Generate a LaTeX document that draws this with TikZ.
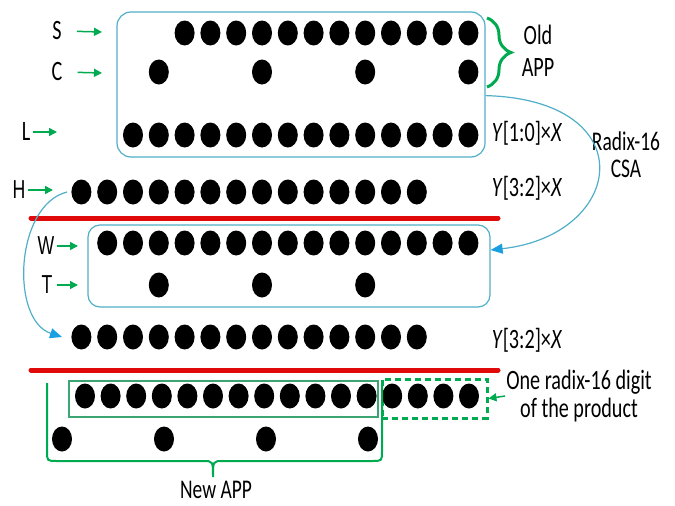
\documentclass[tikz,border=0pt]{standalone}
\usepackage{fontspec}
\setmainfont{Carlito}[FakeStretch=0.72]
\newfontfamily\hwtfont{Liberation Sans}[FakeStretch=0.68]
\usetikzlibrary{arrows.meta,calc,decorations.pathreplacing,positioning}
\definecolor{boxcyan}{RGB}{80,175,200}
\definecolor{tipblue}{RGB}{25,160,225}
\definecolor{appgreen}{RGB}{0,170,80}
\definecolor{rectgreen}{RGB}{60,165,115}
\definecolor{cutred}{RGB}{225,10,10}

\begin{document}
\begin{tikzpicture}[x=1pt, y=-1pt,
    txt/.style={font=\fontsize{28}{29}\selectfont, inner sep=1pt, align=center},
    rowlbl/.style={font=\fontsize{26}{28}\selectfont\hwtfont, inner sep=1pt},
    appbox/.style={draw=boxcyan, line width=1.2pt, rounded corners=14pt},
    newbox/.style={draw=rectgreen, line width=1.2pt},
    digitbox/.style={draw=appgreen, line width=3pt, dash pattern=on 6pt off 4pt},
    garr/.style={-{Triangle[length=8pt,width=8pt]}, appgreen, line width=1.5pt},
    csaarr/.style={-{Triangle[length=12pt,width=10pt,color=tipblue]}, boxcyan, line width=1.2pt},
    cutline/.style={cutred, line width=5pt, line cap=round},
    pp/.style={x radius=10pt, y radius=12.5pt}
]
    \useasboundingbox (0,0) rectangle (675,506);

    % boxes
    \node[appbox, minimum width=368pt, minimum height=145pt] (oldapp) at (301,84.5) {};
    \node[appbox, minimum width=402pt, minimum height=82pt, rounded corners=12pt] (csabox) at (289,266) {};
    \node[newbox, minimum width=309pt, minimum height=36pt] (newpp) at (223.5,399) {};
    \node[digitbox, minimum width=105pt, minimum height=39pt] (digit) at (434.5,398.5) {};

    % partial product bits
    \foreach \c in {2,...,13} \fill ({133+25.8*\c},33) ellipse [pp];
    \foreach \c in {1,5,9,13} \fill ({133+25.8*\c},72) ellipse [pp];
    \foreach \c in {0,...,13} \fill ({133+25.8*\c},135) ellipse [pp];
    \foreach \c in {-2,...,11} \fill ({133+25.8*\c},192) ellipse [pp];
    \foreach \c in {-1,...,13} \fill ({133+25.8*\c},243) ellipse [pp];
    \foreach \c in {1,5,9} \fill ({133+25.8*\c},285) ellipse [pp];
    \foreach \c in {-2,...,11} \fill ({133+25.8*\c},337) ellipse [pp];
    \foreach \i in {0,...,15} \fill ({85+25.6*\i},396) ellipse [pp];
    \foreach \i in {0,...,3} \fill ({62+102*\i},439) ellipse [pp];

    \draw[cutline] (31,218) -- (498,218);
    \draw[cutline] (31,370) -- (498,370);

    % row labels
    \node[txt] (labS) at (57,31) {S};
    \node[txt] (labC) at (57,72) {C};
    \node[txt] (labL) at (26,132) {L};
    \node[rowlbl] (labH) at (19,190) {H};
    \node[rowlbl] (labW) at (46,246) {W};
    \node[rowlbl] (labT) at (47,285) {T};
    \coordinate (inS) at (102,32);
    \coordinate (inC) at (102,73);
    \coordinate (inL) at (57,132);
    \coordinate (inH) at (53,190);
    \coordinate (inW) at (78,246);
    \coordinate (inT) at (78,285);
    \draw[garr, shorten <=14pt] (labS.east) -- (inS);
    \draw[garr, shorten <=14pt] (labC.east) -- (inC);
    \draw[garr, shorten <=2pt] (labL.east) -- (inL);
    \draw[garr, shorten <=1pt] (labH.east) -- (inH);
    \draw[garr, shorten <=1pt] (labW.east) -- (inW);
    \draw[garr, shorten <=3pt] (labT.east) -- (inT);

    % right side
    \draw[appgreen, line width=3pt, decorate, decoration={brace, amplitude=24pt}] (487,18) -- (487,87);
    \node[txt, font=\fontsize{28}{32}\selectfont] (oldtxt) at (538,51) {Old\\APP};
    \node[txt] (y10) at (527,133) {\textit{Y}[1:0]×\textit{X}};
    \node[txt] (y32a) at (527,188) {\textit{Y}[3:2]×\textit{X}};
    \node[txt] (y32b) at (527,340) {\textit{Y}[3:2]×\textit{X}};
    \node[txt, font=\fontsize{27}{27}\selectfont] (csa) at (626,155) {Radix-16\\CSA};
    \draw[csaarr] ($(oldapp.south east)+(0,-62)$) .. controls (645,100) and (625,235) .. ([yshift=16pt]csabox.east);

    \coordinate (hout) at (67,192);
    \coordinate (hin) at (62,337);
    \draw[csaarr] (hout) .. controls (15,205) and (10,320) .. (hin);

    \node[txt, font=\fontsize{28}{28}\selectfont] (digtxt) at (579,396) {One radix-16 digit\\of the product};
    \draw[garr] (digtxt.west) -- (digit.east);

    % new APP bracket
    \draw[appgreen, line width=2pt] (47,383) -- (47,451) .. controls (47,461) .. (57,461) -- (203,461)
        .. controls (213,461) .. (213,477) .. controls (213,461) .. (223,461) -- (372,461)
        .. controls (382,461) .. (382,451) -- (382,383);
    \node[txt, font=\fontsize{27}{28}\selectfont] (newtxt) at (216,490) {New APP};
\end{tikzpicture}
\end{document}
